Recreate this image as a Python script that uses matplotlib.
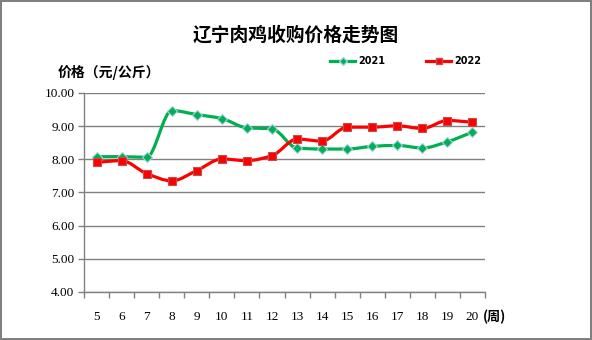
import numpy as np
import matplotlib.pyplot as plt
from matplotlib.path import Path
from matplotlib.patches import PathPatch
from matplotlib.lines import Line2D

plt.rcParams['font.family'] = ['Noto Sans CJK SC', 'DejaVu Sans']

weeks = [5, 6, 7, 8, 9, 10, 11, 12, 13, 14, 15, 16, 17, 18, 19, 20]
price_2021 = [8.08, 8.08, 8.06, 9.47, 9.35, 9.23, 8.95, 8.92, 8.34, 8.31,
              8.31, 8.39, 8.42, 8.34, 8.53, 8.82]
price_2022 = [7.91, 7.96, 7.57, 7.35, 7.66, 8.01, 7.96, 8.11, 8.61, 8.55,
              8.97, 8.97, 9.01, 8.93, 9.17, 9.12]

GREEN = '#00b050'
RED = '#ff0000'


def smooth_path(x, y):
    # monotone cubic (Fritsch-Carlson) tangents, drawn as Bezier segments
    x = np.asarray(x, float)
    y = np.asarray(y, float)
    h = np.diff(x)
    d = np.diff(y) / h
    m = np.zeros_like(y)
    m[0], m[-1] = d[0], d[-1]
    for i in range(1, len(y) - 1):
        if d[i - 1] * d[i] > 0:
            w1 = 2 * h[i] + h[i - 1]
            w2 = h[i] + 2 * h[i - 1]
            m[i] = (w1 + w2) / (w1 / d[i - 1] + w2 / d[i])
    verts = [(x[0], y[0])]
    codes = [Path.MOVETO]
    for i in range(len(y) - 1):
        c1 = (x[i] + h[i] / 3, y[i] + m[i] * h[i] / 3)
        c2 = (x[i + 1] - h[i] / 3, y[i + 1] - m[i + 1] * h[i] / 3)
        verts += [c1, c2, (x[i + 1], y[i + 1])]
        codes += [Path.CURVE4] * 3
    return Path(verts, codes)


fig = plt.figure(figsize=(5.92, 3.40), dpi=100)
fig.patch.set_edgecolor('#808080')
fig.patch.set_linewidth(1.5)
ax = fig.add_axes([0.1419, 0.1412, 0.6774, 0.5853])

xs = np.arange(len(weeks))
for vals, color, marker, mec, ms in [
    (price_2021, GREEN, 'D', '#a6cfe8', 5),
    (price_2022, RED, 's', '#c0504d', 5.5),
]:
    ax.add_patch(PathPatch(smooth_path(xs, vals), facecolor='none',
                           edgecolor=color, lw=2.3, zorder=3))
    ax.plot(xs, vals, ls='none', marker=marker, ms=ms, mfc=color, mec=mec,
            mew=0.8, zorder=4)

ax.set_xlim(-0.5, len(weeks) - 0.5)
ax.set_ylim(4, 10)
ax.set_yticks(np.arange(4, 10.01, 1))
ax.set_yticklabels([f'{v:.2f}' for v in np.arange(4, 10.01, 1)],
                   family='Liberation Serif', fontsize=9.5)
ax.set_xticks(xs)
ax.set_xticklabels([str(w) for w in weeks], family='Liberation Serif', fontsize=9.5)
ax.set_xticks(np.arange(-0.5, len(weeks)), minor=True)
ax.tick_params(axis='x', which='major', length=0, pad=14)
ax.tick_params(axis='x', which='minor', length=4, color='#808080', width=1)
ax.tick_params(axis='y', length=4, color='#808080', width=1, pad=3)

ax.grid(axis='y', color='#808080', lw=1)
ax.set_axisbelow(True)
for side in ['top', 'right']:
    ax.spines[side].set_visible(False)
for side in ['left', 'bottom']:
    ax.spines[side].set_color('#808080')
    ax.spines[side].set_linewidth(1)

fig.text(0.50, 0.897, '辽宁肉鸡收购价格走势图', ha='center', va='center',
         fontsize=13.5, fontweight='bold')
fig.text(0.098, 0.788, '价格（元/公斤）', ha='left', va='center',
         fontsize=10, fontweight='bold')
fig.text(0.835, 0.068, '(周)', ha='center', va='center',
         fontsize=9.5, fontweight='bold')

handles = [
    Line2D([], [], color=GREEN, lw=2.3, marker='D', ms=4, mfc=GREEN, mec='#a6cfe8'),
    Line2D([], [], color=RED, lw=2.3, marker='s', ms=4.5, mfc=RED, mec='#c0504d'),
]
fig.legend(handles, ['2021', '2022'], loc='center', bbox_to_anchor=(0.685, 0.82),
           ncol=2, frameon=False, handlelength=2.6, handletextpad=0.3,
           columnspacing=4.2, prop={'family': 'DejaVu Sans', 'weight': 'bold', 'size': 7})

fig.savefig('out.png', dpi=100)
